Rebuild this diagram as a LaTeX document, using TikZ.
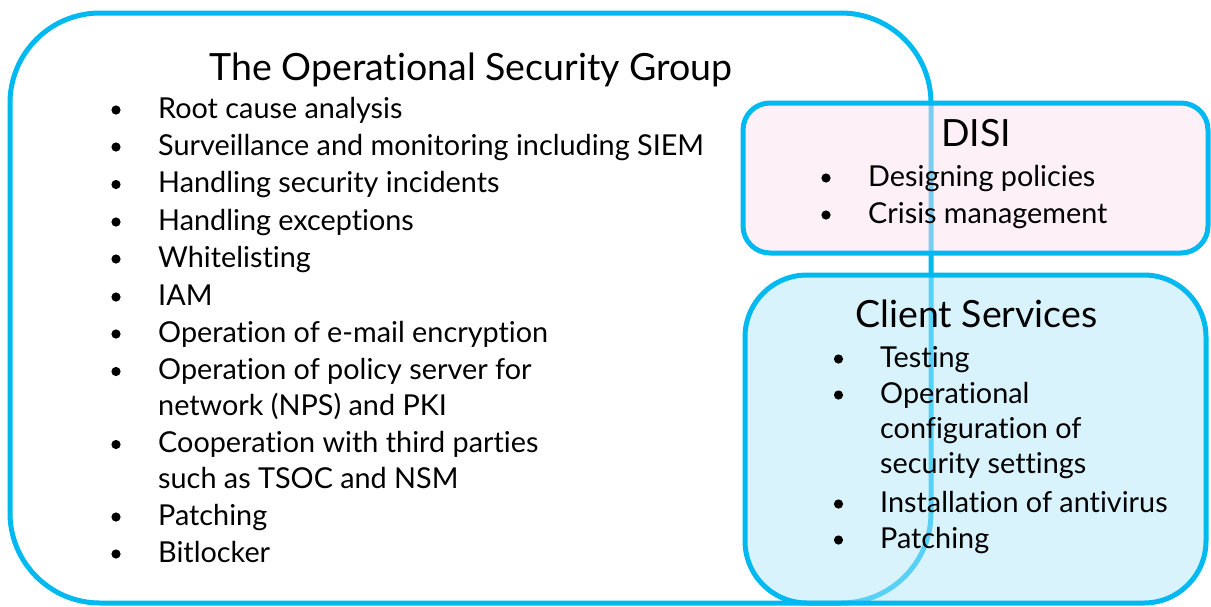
\documentclass[tikz,border=0pt]{standalone}
\usepackage{fontspec}
\setmainfont{Lato}[Ligatures={NoCommon}]
\definecolor{osgblue}{RGB}{0,185,241}
\definecolor{disipink}{RGB}{251,225,237}
\definecolor{clientblue}{RGB}{179,231,251}
\begin{document}
\begin{tikzpicture}[x=1pt,y=-1pt,
  group/.style={draw=osgblue, line width=5pt, inner sep=0pt, outer sep=0pt},
  heading/.style={anchor=base, font=\fontsize{37.5}{44}\selectfont, inner sep=0pt},
  entry/.style={anchor=base west, font=\fontsize{28.8}{34}\selectfont, inner sep=0pt}]
\useasboundingbox (0,0) rectangle (1211,606);

% the three groups
\node[group, rounded corners=90pt, minimum width=921pt, minimum height=590pt] (osg) at (470.5,308) {};
\node[group, fill=disipink, fill opacity=0.5, rounded corners=27pt, minimum width=465pt, minimum height=150pt] (disi) at (975.5,178) {};
\node[group, fill=clientblue, fill opacity=0.5, rounded corners=62pt, minimum width=461pt, minimum height=328pt] (cs) at (975.5,439) {};

% headings
\node[heading] (osgtitle) at (471,80) {The Operational Security Group};
\node[heading] (disititle) at (976,146) {DISI};
\node[heading] (cstitle) at (976.5,327) {Client Services};

% operational security group tasks
\foreach \y in {118,155,192.5,230,267,305,342,379.5,452.5,525,562}
  \fill (116,\y-8) circle (4.6pt);
\node[entry] (osg1) at (158,118) {Root cause analysis};
\node[entry] (osg2) at (158,155) {Surveillance and monitoring including SIEM};
\node[entry] (osg3) at (158,192.5) {Handling security incidents};
\node[entry] (osg4) at (158,230) {Handling exceptions};
\node[entry] (osg5) at (158,267) {Whitelisting};
\node[entry] (osg6) at (158,305) {IAM};
\node[entry] (osg7) at (158,342) {Operation of e-mail encryption};
\node[entry] (osg8) at (158,379.5) {Operation of policy server for};
\node[entry] (osg8b) at (158,415) {network (NPS) and PKI};
\node[entry] (osg9) at (158,452.5) {Cooperation with third parties};
\node[entry] (osg9b) at (158,488) {such as TSOC and NSM};
\node[entry] (osg10) at (158,525) {Patching};
\node[entry] (osg11) at (158,562) {Bitlocker};

% DISI tasks
\foreach \y in {186,223}
  \fill (826,\y-8) circle (4.6pt);
\node[entry] (disi1) at (868,186) {Designing policies};
\node[entry] (disi2) at (868,223) {Crisis management};

% client services tasks
\foreach \y in {367,403,512,548}
  \fill (838.5,\y-8) circle (4.6pt);
\node[entry] (cs1) at (880,367) {Testing};
\node[entry] (cs2) at (880,403) {Operational};
\node[entry] (cs2b) at (880,438) {configuration of};
\node[entry] (cs2c) at (880,473) {security settings};
\node[entry] (cs3) at (880,512) {Installation of antivirus};
\node[entry] (cs4) at (880,548) {Patching};
\end{tikzpicture}
\end{document}
